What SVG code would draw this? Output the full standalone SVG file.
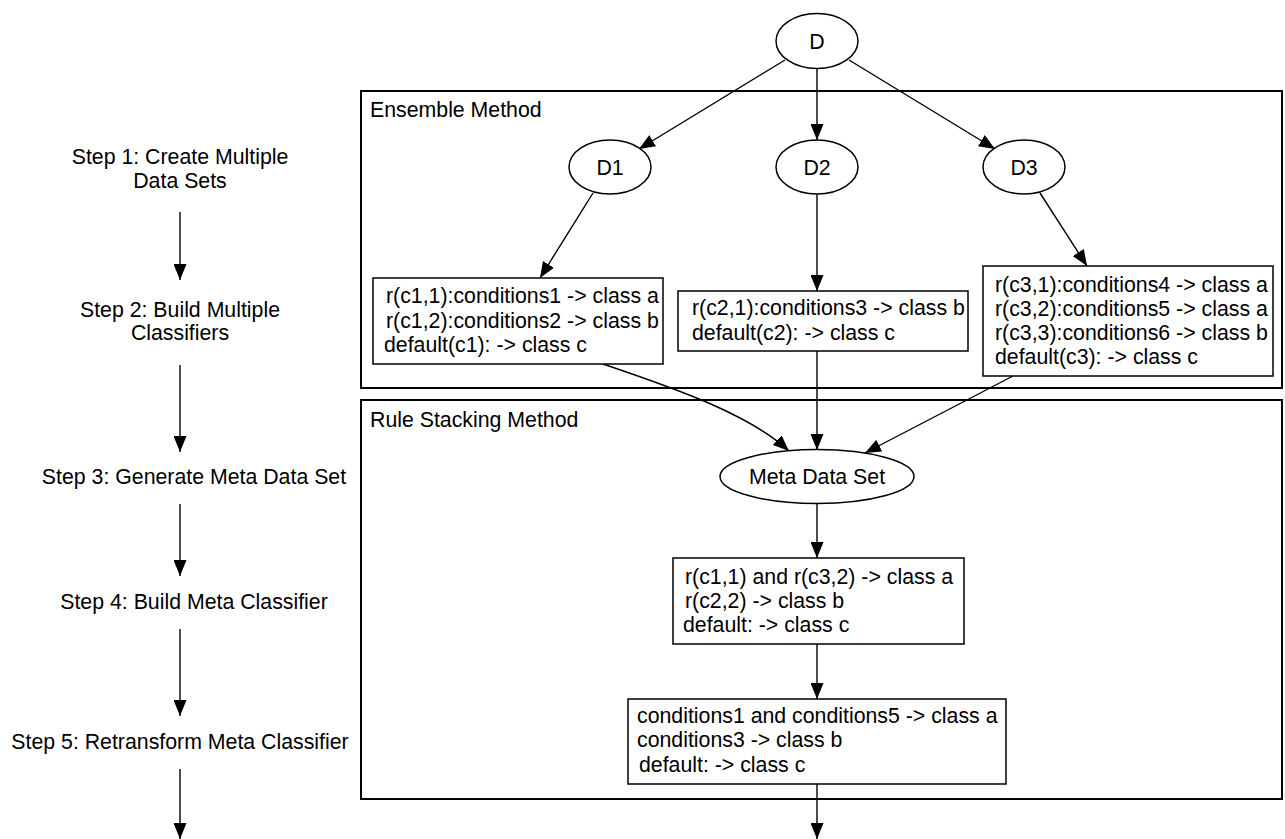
<svg xmlns="http://www.w3.org/2000/svg" width="1285" height="839" viewBox="0 0 1285 839">
  <style>
    text { font-family: "Liberation Sans", Arial, sans-serif; font-size: 21.3px; fill: #000; }
    .mid { text-anchor: middle; }
    .node { fill: #fff; stroke: #000; stroke-width: 1.5; }
    .group { fill: none; stroke: #000; stroke-width: 2; }
    .edge { fill: none; stroke: #000; stroke-width: 1.4; marker-end: url(#arrow); }
  </style>
  <defs>
    <marker id="arrow" markerUnits="userSpaceOnUse" markerWidth="16" markerHeight="13" viewBox="0 0 16 13" refX="16" refY="6.5" orient="auto">
      <path d="M0,0 L16,6.5 L0,13 z" fill="#000"/>
    </marker>
  </defs>
  <rect width="1285" height="839" fill="#fff"/>

  <!-- process steps column -->
  <g id="steps">
    <text class="mid" x="180" y="164">Step 1: Create Multiple</text>
    <text class="mid" x="180" y="188">Data Sets</text>
    <text class="mid" x="180" y="317">Step 2: Build Multiple</text>
    <text class="mid" x="180" y="340">Classifiers</text>
    <text class="mid" x="194" y="484">Step 3: Generate Meta Data Set</text>
    <text class="mid" x="194" y="609">Step 4: Build Meta Classifier</text>
    <text class="mid" x="180" y="749">Step 5: Retransform Meta Classifier</text>
  </g>

  <!-- method groups -->
  <g id="ensemble-method">
    <rect class="group" x="361" y="91" width="921" height="297"/>
    <text x="370" y="117">Ensemble Method</text>
  </g>
  <g id="rule-stacking-method">
    <rect class="group" x="361" y="400" width="921" height="399"/>
    <text x="370" y="427">Rule Stacking Method</text>
  </g>

  <!-- connectors -->
  <g id="connectors">
    <line class="edge" x1="180" y1="212" x2="180" y2="280"/>
    <line class="edge" x1="180" y1="365" x2="180" y2="452"/>
    <line class="edge" x1="180" y1="504" x2="180" y2="576"/>
    <line class="edge" x1="180" y1="629" x2="180" y2="716"/>
    <line class="edge" x1="180" y1="769" x2="180" y2="839"/>

    <line class="edge" x1="785" y1="60" x2="639" y2="149"/>
    <line class="edge" x1="817" y1="68" x2="817" y2="140"/>
    <line class="edge" x1="849" y1="60" x2="995" y2="149"/>
    <line class="edge" x1="593" y1="193" x2="540" y2="278"/>
    <line class="edge" x1="817" y1="194" x2="817" y2="291"/>
    <line class="edge" x1="1040" y1="193" x2="1087" y2="266"/>
    <path class="edge" d="M603,364 C680,390 750,415 789,451"/>
    <line class="edge" x1="817" y1="351" x2="817" y2="450"/>
    <line class="edge" x1="1013" y1="376" x2="865" y2="453"/>
    <line class="edge" x1="817" y1="504" x2="817" y2="558"/>
    <line class="edge" x1="817" y1="644" x2="817" y2="699"/>
    <line class="edge" x1="817" y1="784" x2="817" y2="839"/>
  </g>

  <!-- data set nodes -->
  <g id="node-D">
    <ellipse class="node" cx="817" cy="41" rx="41" ry="27.5"/>
    <text class="mid" x="817" y="48.5">D</text>
  </g>
  <g id="node-D1">
    <ellipse class="node" cx="610" cy="167" rx="41" ry="27"/>
    <text class="mid" x="610" y="174.5">D1</text>
  </g>
  <g id="node-D2">
    <ellipse class="node" cx="817" cy="167" rx="41" ry="27"/>
    <text class="mid" x="817" y="174.5">D2</text>
  </g>
  <g id="node-D3">
    <ellipse class="node" cx="1024" cy="167" rx="41" ry="27"/>
    <text class="mid" x="1024" y="174.5">D3</text>
  </g>

  <!-- base classifiers -->
  <g id="node-c1">
    <rect class="node" x="373" y="278" width="290" height="86"/>
    <text x="386" y="303">r(c1,1):conditions1 -&gt; class a</text>
    <text x="386" y="328">r(c1,2):conditions2 -&gt; class b</text>
    <text x="384" y="352">default(c1): -&gt; class c</text>
  </g>
  <g id="node-c2">
    <rect class="node" x="678" y="291" width="290" height="60"/>
    <text x="692" y="315">r(c2,1):conditions3 -&gt; class b</text>
    <text x="692" y="340">default(c2): -&gt; class c</text>
  </g>
  <g id="node-c3">
    <rect class="node" x="983" y="266" width="290" height="110"/>
    <text x="995" y="292">r(c3,1):conditions4 -&gt; class a</text>
    <text x="995" y="316">r(c3,2):conditions5 -&gt; class a</text>
    <text x="995" y="340">r(c3,3):conditions6 -&gt; class b</text>
    <text x="995" y="364">default(c3): -&gt; class c</text>
  </g>

  <!-- stacking stage -->
  <g id="node-meta-data-set">
    <ellipse class="node" cx="817" cy="476.5" rx="97" ry="27"/>
    <text class="mid" x="817" y="483.5">Meta Data Set</text>
  </g>
  <g id="node-meta-classifier">
    <rect class="node" x="673" y="558" width="291" height="86"/>
    <text x="685" y="584">r(c1,1) and r(c3,2) -&gt; class a</text>
    <text x="685" y="608">r(c2,2) -&gt; class b</text>
    <text x="683" y="632">default: -&gt; class c</text>
  </g>
  <g id="node-retransformed">
    <rect class="node" x="628" y="699" width="378" height="85"/>
    <text x="637" y="723">conditions1 and conditions5 -&gt; class a</text>
    <text x="637" y="747">conditions3 -&gt; class b</text>
    <text x="639" y="772">default: -&gt; class c</text>
  </g>
</svg>
